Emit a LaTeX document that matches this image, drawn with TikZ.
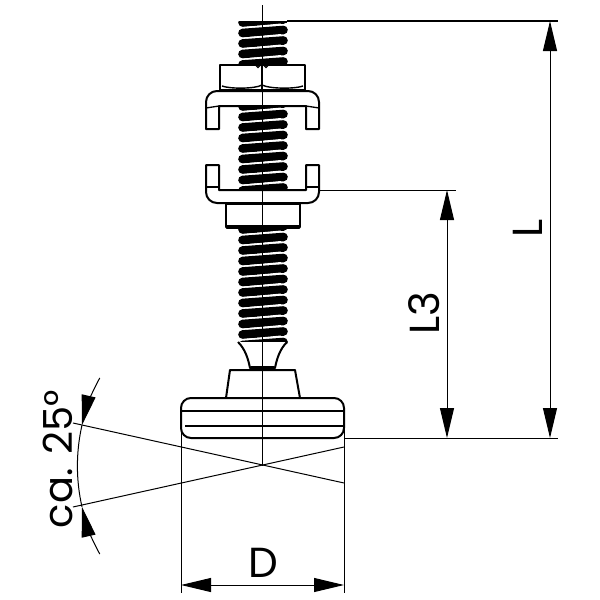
\documentclass[tikz,border=0pt]{standalone}
\usepackage{fontspec}
\setmainfont{Poppins}
\usetikzlibrary{arrows.meta}

\tikzset{
	partline/.style={draw=black, line width=2pt, fill=white, line join=round},
	thinline/.style={draw=black, line width=1pt},
	threadline/.style={draw=black, line width=8.6pt, line cap=round},
	threadgap/.style={draw=white, line width=2.2pt},
	dimarrow/.style={draw=black, line width=1pt, >={Triangle[length=30pt,width=14pt]}},
	dimlabel/.style={font=\fontsize{42}{42}\selectfont, inner sep=0pt},
	anglelabel/.style={font=\fontsize{40}{40}\selectfont, inner sep=0pt},
}

\newcommand{\threadpart}[3]{
	\begin{scope}
		\clip (236,#1) rectangle (290,#2);
		\foreach \i in {0,...,#3}{
			\draw[threadline](242.5,#1+1.5+\i*10.5) -- (283.5,#1-1.5+\i*10.5);
			\draw[threadgap](245,#1+7+\i*10.5) -- (281,#1+3.6+\i*10.5);
		}
	\end{scope}
}

\begin{document}
\begin{tikzpicture}[x=1pt,y=-1pt]
	\useasboundingbox (0,0) rectangle (600,600);

	\coordinate (axistop) at (262,5);
	\coordinate (axiscross) at (262,466);
	\coordinate (threadtop) at (287,21);
	\coordinate (topend) at (558,21);
	\coordinate (clipedge) at (319,190);
	\coordinate (clipend) at (456,190);
	\coordinate (footedge) at (344,438);
	\coordinate (footend) at (558,438);
	\coordinate (ltop) at (550,21);
	\coordinate (lbottom) at (550,438);
	\coordinate (lthreetop) at (447,190);
	\coordinate (lthreebottom) at (447,438);
	\coordinate (dleft) at (181,585);
	\coordinate (dright) at (344,585);
	\coordinate (extleft) at (181,411);
	\coordinate (extleftend) at (181,593);
	\coordinate (extright) at (344,411);
	\coordinate (extrightend) at (344,593);
	\coordinate (rayupper) at (73,423);
	\coordinate (raylower) at (73,507);
	\coordinate (rayupperend) at (344,483);
	\coordinate (raylowerend) at (344,447);

	% threads
	\threadpart{21}{64}{4}
	\threadpart{105}{190}{8}
	\threadpart{228}{343}{11}
	\draw[line width=2pt] (241,21.5) -- (287,21.5);

	% neck and base
	\draw[partline] (238,342) .. controls (245,349) and (248,358) .. (250,368) -- (275,368) .. controls (277,358) and (280,349) .. (287,342);
	\draw[line width=3pt, line cap=round] (251,367) -- (274,367);
	\draw[partline] (230,370) -- (295,370) -- (300,398) -- (226,398) -- cycle;
	\draw[partline, rounded corners=10pt] (181,398) rectangle (344,438);
	\draw[line width=1.6pt] (181,411) -- (344,411);
	\draw[line width=2pt] (185,426) -- (344,426);

	% nut and clips
	\draw[partline] (220,65) rectangle (305,90);
	\draw[line width=1.4pt] (222,86) .. controls (230,89) and (255,89) .. (262,85) .. controls (270,89) and (295,89) .. (303,86);
	\draw[line width=1.4pt] (262,65) -- (262,90);
	\draw[line width=1.2pt] (258,66) circle (1.5) (266,66) circle (1.5);
	\draw[partline] (219,129) -- (206,129) -- (206,102) arc[start angle=180, end angle=270, radius=11] -- (308,91) arc[start angle=270, end angle=360, radius=11] -- (319,129) -- (306,129) -- (306,106) -- (219,106) -- cycle;
	\draw[line width=1.3pt] (206,108) -- (219,106) (306,106) -- (319,108);
	\draw[partline] (206,165) -- (219,165) -- (219,190) -- (306,190) -- (306,165) -- (319,165) -- (319,192) arc[start angle=0, end angle=90, radius=11] -- (217,203) arc[start angle=90, end angle=180, radius=11] -- cycle;
	\draw[line width=1.3pt] (206,187) -- (219,187) (306,187) -- (319,187);
	\draw[partline] (226,204) rectangle (300,227);
	\draw[line width=3.2pt, line cap=round] (227,227) -- (299,227);

	% axis and dimensions
	\draw[thinline] (axistop) -- (axiscross);
	\draw[line width=1.6pt] (threadtop) -- (topend);
	\draw[thinline] (clipedge) -- (clipend);
	\draw[thinline] (footedge) -- (footend);
	\draw[thinline] (extleft) -- (extleftend);
	\draw[thinline] (extright) -- (extrightend);
	\draw[thinline] (rayupper) -- (rayupperend);
	\draw[thinline] (raylower) -- (raylowerend);
	\draw[dimarrow,<->] (ltop) -- (lbottom);
	\draw[dimarrow,<->] (lthreetop) -- (lthreebottom);
	\draw[dimarrow,<->] (dleft) -- (dright);
	\draw[thinline] (axiscross) ++(167.2:184.6) arc[start angle=167.2, end angle=192.8, radius=184.6];
	\draw[dimarrow,->] (axiscross) ++(151.5:184.6) arc[start angle=151.5, end angle=167.2, radius=184.6];
	\draw[dimarrow,->] (axiscross) ++(208.5:184.6) arc[start angle=208.5, end angle=192.8, radius=184.6];

	\node[dimlabel] (labelL) at (528,228) [rotate=90] {L};
	\node[dimlabel] (labelLthree) at (424,313) [rotate=90] {L3};
	\node[dimlabel] (labelD) at (263,563) {D};
	\node[anglelabel] (labelangle) at (58,459) [rotate=90] {ca. 25°};
\end{tikzpicture}
\end{document}
